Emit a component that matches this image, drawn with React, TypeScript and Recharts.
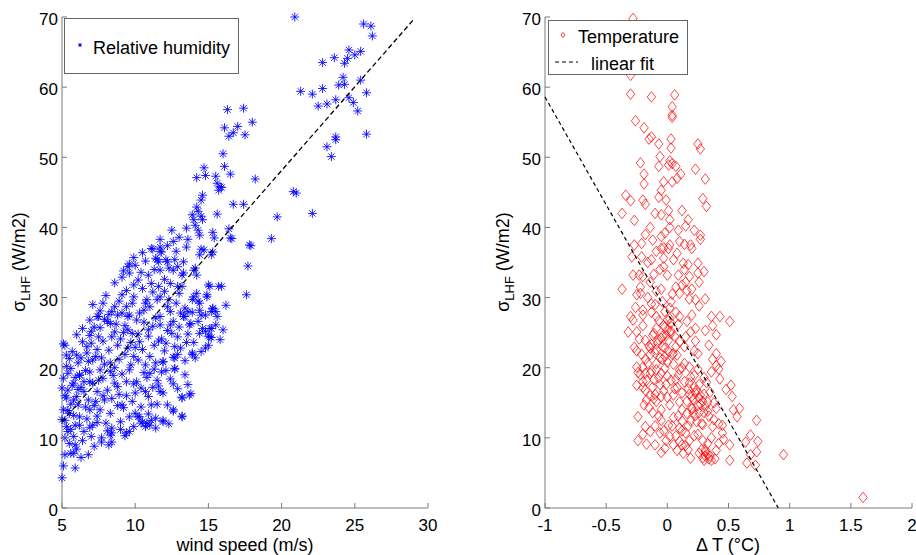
import React from 'react';
import { ScatterChart, Scatter, XAxis, YAxis } from 'recharts';

const FONT = '"Liberation Sans", Arial, Helvetica, sans-serif';
const AXIS_COLOR = '#7a7a7a';

// axis ticks
const windTicks = [5, 10, 15, 20, 25, 30];
const dtTicks = [-1, -0.5, 0, 0.5, 1, 1.5, 2];
const lhfTicks = [0, 10, 20, 30, 40, 50, 60, 70];

// left panel: wind speed (m/s) vs sigma LHF (W/m2)
const humidityPoints: [number, number][] = [
  [20.9, 70], [25.6, 69.0], [26.1, 68.7], [26.2, 67.3], [22.8, 63.5], [23.6, 64.2], [24.3, 63.4], [24.6, 65.3],
  [25.4, 65.1], [24.5, 64.1], [25.0, 64.6], [24.2, 61.4], [25.4, 61.0], [21.3, 59.4], [22.1, 59.0], [22.8, 59.8],
  [23.9, 60.3], [24.3, 60.4], [25.8, 59.2], [22.5, 57.3], [23.1, 57.6], [23.7, 58.2], [24.6, 58.5], [24.9, 57.8],
  [25.2, 56.6], [25.8, 53.3], [23.7, 52.9], [23.7, 52.5], [23.1, 51.5], [23.4, 50.1], [20.8, 45.1], [21.0, 44.9],
  [22.1, 42.0], [19.7, 41.5], [19.3, 38.4], [18.2, 46.9], [18.0, 55.0], [17.4, 57.0], [16.3, 56.8], [16.1, 54.2],
  [17.0, 54.4], [16.7, 53.5], [16.4, 53.0], [17.5, 53.2], [16.0, 50.5], [16.1, 48.7], [16.5, 47.6], [16.7, 43.3],
  [17.4, 43.3], [17.9, 37.4], [17.7, 34.5], [16.4, 39.8], [16.5, 38.5], [15.6, 41.9], [14.7, 48.5], [14.8, 47.4],
  [14.2, 47.1], [15.5, 47.3], [15.6, 46.3], [15.8, 45.8], [15.7, 45.3], [15.9, 45.7], [14.6, 44.6], [14.5, 43.9],
  [14.2, 42.9], [13.9, 41.8], [14.0, 41.1], [14.3, 42.3], [14.5, 41.6], [14.6, 41.1], [14.1, 40.3], [14.4, 38.9],
  [14.3, 39.6], [15.3, 39.3], [15.4, 38.5], [13.5, 39.9], [13.6, 38.3], [14.5, 36.9], [15.3, 36.5], [14.4, 36.1],
  [12.5, 39.6], [12.6, 38.0], [11.7, 38.3], [11.7, 37.2], [11.2, 36.9], [11.8, 36.5], [9.9, 35.7], [9.6, 34.8],
  [9.6, 33.5], [11.4, 35.6], [11.6, 35.1], [12.2, 35.1], [12.7, 35.4], [13.3, 35.1], [11.7, 33.9], [12.6, 33.9],
  [13.2, 33.2], [14.0, 33.9], [14.2, 33.2], [10.9, 33.2], [9.1, 32.9],
  [16.6, 38.4], [17.8, 37.5], [17.6, 30.4], [16.2, 28.9], [11.1, 37.0], [11.7, 36.6], [14.7, 36.8], [15.2, 36.1],
  [9.5, 34.4], [11.5, 35.4], [12.1, 35.4], [12.9, 34.4], [14.1, 34.2], [12.3, 34.2], [10.2, 32.5], [9.9, 31.8],
  [13.3, 33.5], [11.6, 31.6], [12.4, 32.0], [13.2, 31.6], [15.0, 31.8], [15.7, 31.6], [15.9, 31.6], [14.9, 30.4],
  [14.0, 30.1], [14.2, 30.6], [13.9, 29.7], [14.4, 29.2], [15.3, 28.5], [11.2, 30.8], [11.7, 30.1], [12.3, 29.7],
  [10.8, 29.7], [11.0, 28.7], [12.2, 28.7], [12.8, 29.2], [13.4, 28.5], [9.1, 30.4], [9.9, 30.1], [9.4, 28.7],
  [8.6, 28.7], [7.8, 29.2], [8.4, 28.0], [7.5, 27.3], [9.1, 27.8], [9.6, 27.5], [10.3, 27.8], [10.7, 29.2],
  [11.5, 29.7], [12.4, 28.0], [13.1, 27.8], [13.6, 28.0], [14.4, 28.2], [14.8, 27.5], [15.6, 27.3], [15.5, 28.0],
  [11.7, 27.3], [13.4, 27.3],
  [15.1, 31.6], [15.3, 28.4], [14.9, 30.1], [15.2, 25.6], [15.0, 24.5], [13.9, 21.9], [13.8, 16.3], [13.2, 15.8],
  [13.2, 13.1], [12.6, 13.8], [12.6, 21.5], [12.7, 19.8], [11.9, 16.4], [11.9, 20.8], [11.9, 12.5], [11.5, 14.8],
  [11.1, 12.5], [10.8, 12.1], [10.5, 12.3], [10.2, 13.0], [10.0, 13.5], [9.4, 10.7], [9.3, 10.3], [8.4, 10.7],
  [8.4, 9.4], [7.7, 9.4], [7.7, 10.0], [6.8, 7.6], [5.9, 5.7], [5.6, 7.8], [5.1, 6.0], [5.0, 4.3],
  [5.1, 23.4], [5.0, 17.1],
  [5.2, 23.2], [6.0, 24.7], [5.7, 22.3], [6.1, 20.7], [5.4, 19.2], [6.2, 19.0], [5.8, 17.8], [5.4, 16.8],
  [6.5, 16.6], [5.1, 14.0], [5.5, 13.5], [6.2, 13.0], [6.9, 14.0], [7.1, 11.8], [5.3, 11.6], [5.9, 11.8],
  [6.5, 10.9], [5.2, 10.0], [5.8, 10.2], [7.0, 10.2], [8.3, 10.4], [9.6, 10.9], [5.8, 7.8], [5.2, 7.6],
  [10.4, 12.1], [11.0, 11.8], [10.3, 13.0], [11.4, 12.8], [11.9, 12.3], [9.1, 14.7], [9.2, 14.3], [8.3, 13.5],
  [9.6, 13.0], [10.0, 16.4], [10.9, 15.9], [11.1, 14.7], [11.7, 16.6], [12.2, 14.7], [12.6, 14.0], [13.2, 13.0],
  [13.2, 15.7], [13.7, 16.1], [11.0, 19.2], [11.8, 19.4], [12.7, 19.9], [12.7, 21.4], [11.9, 20.9], [11.4, 20.7],
  [10.7, 20.4], [10.1, 18.0], [9.4, 18.0], [9.6, 19.7], [8.8, 17.3], [8.1, 16.8], [7.4, 16.6], [7.9, 15.4],
  [7.3, 15.2], [8.6, 17.8], [11.5, 18.2], [12.7, 23.0], [13.9, 22.1], [15.1, 25.6], [15.1, 24.4], [14.4, 24.9],
  [13.7, 26.1], [13.3, 27.3], [14.5, 27.5], [15.2, 28.0], [12.4, 26.1], [11.7, 26.1], [10.9, 25.4], [10.3, 23.7],
  [9.5, 22.8], [8.8, 23.2], [8.4, 24.4], [7.6, 25.7], [8.1, 26.6], [7.4, 27.3], [8.8, 27.5], [9.5, 27.3],
  [10.1, 26.8], [7.0, 23.5], [6.7, 22.1], [7.1, 21.1], [7.6, 19.7], [6.9, 19.4], [8.3, 20.7], [7.8, 18.5],
  [6.5, 18.0], [7.1, 17.8], [5.8, 15.4], [5.3, 15.7], [6.1, 14.7], [6.8, 15.4], [7.6, 14.0], [9.0, 12.3],
  [8.4, 11.4], [10.7, 11.6], [5.2, 12.5], [5.4, 10.9], [5.9, 9.0], [6.2, 11.8],
  [5.1, 18.5], [5.3, 20.2], [5.5, 21.3], [5.2, 16.0], [5.6, 14.8], [5.8, 13.2], [6.0, 15.9], [6.3, 17.2],
  [6.6, 19.6], [6.0, 21.8], [6.4, 23.7], [6.9, 24.6], [7.2, 25.8], [7.8, 23.8], [8.2, 22.5], [8.6, 25.1],
  [9.0, 24.1], [9.3, 26.0], [9.8, 24.9], [10.5, 22.6], [10.9, 24.5], [11.3, 23.2], [11.8, 24.1], [12.2, 25.3],
  [12.9, 24.4], [13.5, 23.6], [10.2, 21.1], [9.7, 20.4], [9.1, 19.1], [8.5, 18.9], [7.9, 20.5], [7.3, 21.6],
  [6.8, 20.9], [6.2, 18.9], [5.7, 17.5], [5.4, 13.9], [5.0, 12.6], [5.6, 11.2], [6.7, 12.7], [7.4, 13.1],
  [8.0, 12.1], [8.8, 14.6], [9.4, 16.0], [10.4, 17.1], [10.8, 18.6], [11.6, 17.4], [12.4, 18.4], [12.9, 17.0],
  [13.4, 19.0], [14.1, 21.4], [13.1, 22.8], [12.0, 22.4], [11.0, 21.6], [10.0, 22.9], [9.5, 25.4], [8.3, 26.3],
  [7.6, 28.1], [6.9, 26.8], [6.4, 25.6], [7.1, 29.0], [8.0, 30.3], [8.9, 29.5], [9.8, 29.2], [10.6, 28.2],
  [11.4, 27.1], [12.6, 26.6], [13.8, 26.3], [14.6, 25.6], [15.2, 24.3], [14.3, 29.5], [13.0, 30.6], [12.0, 30.9],
  [10.5, 31.3], [9.4, 31.0], [8.6, 32.1],
  [5.3, 21.8], [5.6, 19.9], [5.9, 18.6], [6.3, 21.4], [6.7, 23.0], [7.0, 25.2], [7.5, 24.4], [7.9, 26.9],
  [8.2, 27.6], [8.7, 26.2], [9.2, 25.0], [9.7, 23.6], [10.2, 24.8], [10.6, 26.5], [11.2, 25.9], [11.6, 23.8],
  [12.1, 23.5], [12.5, 24.9], [13.0, 25.8], [13.6, 24.8], [14.0, 23.6], [14.8, 22.8], [14.3, 26.6], [13.9, 27.9],
  [12.9, 31.6], [12.0, 32.6], [11.1, 32.0], [10.4, 33.6], [10.0, 34.6], [9.2, 33.8], [10.7, 35.2], [11.3, 34.0],
  [12.8, 36.6], [13.5, 37.2], [13.0, 38.6], [12.2, 37.4], [10.5, 36.4], [6.1, 16.9], [6.6, 14.4], [7.2, 14.6],
  [7.8, 16.0], [8.4, 15.6], [8.9, 16.2], [9.8, 15.2], [10.4, 14.4], [10.9, 13.4], [6.4, 9.6], [6.9, 11.5],
  [7.4, 12.2], [8.1, 11.0], [5.5, 9.2], [6.0, 8.4], [6.3, 7.2], [7.2, 8.8], [8.2, 9.0], [9.0, 11.2],
  [9.9, 11.6], [11.4, 11.4], [12.3, 12.0], [8.9, 21.2], [9.3, 21.9], [9.9, 21.6], [10.6, 19.3], [11.3, 19.8],
  [12.1, 19.6], [12.6, 17.7], [13.6, 17.6], [8.6, 20.0], [7.4, 22.6], [7.7, 21.4], [6.9, 18.0], [7.5, 18.2],
  [8.3, 19.5], [9.9, 17.7], [10.7, 16.6], [11.2, 17.2], [12.9, 21.9], [13.4, 21.0], [14.5, 22.3], [15.0, 23.2],
  [15.8, 24.0], [14.8, 25.2], [15.5, 26.1], [16.0, 25.4],
];
const windFit: [number, number][] = [[5, 12.3], [29, 69.6]];

// right panel: delta T (deg C) vs sigma LHF (W/m2)
const temperaturePoints: [number, number][] = [
  [-0.28, 69.8], [-0.3, 61.7], [-0.3, 59.0], [-0.13, 58.6], [0.06, 58.9], [0.04, 57.2], [0.04, 55.7], [0.04, 56.0],
  [-0.26, 55.2], [-0.19, 54.2], [-0.13, 52.9], [-0.15, 52.6], [-0.07, 51.9], [0.03, 52.6], [0.03, 51.3], [0.25, 51.9],
  [0.27, 51.2], [-0.22, 49.2], [-0.06, 50.1], [0.02, 49.5], [0.04, 49.1], [0.01, 48.9], [-0.07, 48.7], [0.07, 48.7],
  [0.23, 48.3], [0.31, 46.9], [0.11, 47.6], [0.08, 47.0], [0.04, 46.5], [-0.19, 47.6], [-0.19, 46.2], [-0.03, 46.5],
  [-0.34, 44.6], [-0.3, 43.8], [-0.37, 42.0], [-0.2, 43.9], [-0.18, 43.3], [-0.07, 44.3], [-0.01, 43.9], [-0.05, 45.3],
  [0.29, 44.1], [0.32, 43.0], [0.12, 42.4], [-0.1, 42.0], [-0.05, 41.8], [0.01, 42.4], [0.02, 41.1], [0.17, 41.1],
  [0.15, 40.2], [0.09, 39.6], [0.02, 40.0], [-0.14, 40.0], [-0.27, 41.0], [-0.27, 37.5], [-0.21, 37.7], [-0.12, 38.2],
  [-0.05, 38.7], [-0.05, 37.0], [-0.03, 37.1], [0.01, 37.0], [0.02, 37.5], [0.1, 38.0], [0.19, 37.5], [0.2, 37.0],
  [0.27, 38.9], [0.27, 38.3], [-0.29, 35.8], [-0.21, 35.8], [-0.13, 35.4], [0.05, 35.4], [-0.03, 35.6], [0.13, 34.9],
  [0.17, 34.7], [0.25, 34.9], [0.3, 33.7], [-0.28, 33.2], [-0.23, 33.2], [-0.03, 34.4], [0.0, 33.2], [0.18, 33.0],
  [-0.11, 33.3],
  [-0.37, 31.2], [-0.25, 30.4], [-0.22, 30.6], [-0.28, 26.8], [-0.32, 25.1], [-0.25, 25.1], [-0.2, 27.5], [-0.2, 28.2],
  [-0.13, 27.9], [-0.13, 29.1], [-0.09, 27.3], [-0.25, 22.4], [-0.25, 20.1], [-0.25, 17.5], [-0.24, 13.0], [-0.24, 9.6],
  [-0.18, 11.6], [-0.17, 9.1], [-0.14, 10.9], [-0.1, 9.0], [-0.05, 7.9], [-0.02, 8.5], [-0.06, 10.7], [-0.07, 13.1],
  [0.01, 11.8], [0.02, 10.2], [0.1, 11.4], [0.12, 9.0], [0.17, 8.3], [0.19, 7.1], [0.25, 10.5], [0.31, 8.3],
  [0.31, 7.4], [0.36, 6.8], [0.35, 7.4], [0.39, 7.0], [0.42, 9.2], [0.45, 10.7], [0.51, 9.0], [0.51, 6.8],
  [0.65, 6.4], [0.68, 7.6], [0.72, 6.1], [0.68, 10.4], [0.64, 9.4], [0.74, 9.5], [0.73, 12.5], [0.73, 8.0],
  [0.95, 7.6], [1.6, 1.5], [0.52, 17.5], [0.53, 15.9], [0.54, 14.0], [0.59, 14.2], [0.57, 13.0], [0.51, 26.6],
  [0.43, 27.3], [0.36, 27.3], [0.37, 26.0], [0.4, 24.7], [0.4, 22.0], [0.37, 21.2], [0.4, 20.3], [0.42, 19.8],
  [0.43, 18.4], [0.36, 19.4], [0.25, 22.0], [0.22, 22.4], [0.23, 23.8], [0.23, 25.6], [0.26, 28.8], [0.23, 29.7],
  [0.26, 32.2], [0.15, 32.2], [0.16, 31.0], [0.1, 30.6], [0.07, 31.5], [0.03, 29.4], [0.02, 28.5], [0.0, 26.8],
  [-0.02, 25.8], [0.0, 25.4], [0.03, 24.9], [-0.04, 24.5], [-0.07, 24.0], [-0.04, 23.0], [-0.09, 22.6], [-0.13, 23.3],
  [-0.14, 21.9], [-0.18, 21.2], [-0.21, 21.9], [-0.2, 20.1], [-0.18, 19.2], [-0.14, 19.2], [-0.11, 18.3], [-0.09, 19.7],
  [-0.05, 19.2], [-0.02, 19.9], [0.0, 18.8], [-0.01, 17.6], [-0.06, 17.6], [-0.12, 17.2], [-0.1, 16.2], [-0.14, 16.0],
  [-0.2, 17.2], [-0.17, 15.4], [-0.09, 15.2], [-0.05, 15.9], [0.02, 14.7], [0.05, 16.1], [0.08, 17.2], [0.07, 18.3],
  [0.1, 19.7], [0.14, 20.6], [0.18, 20.1], [0.19, 18.7], [0.18, 17.8], [0.22, 17.3], [0.23, 16.4], [0.26, 15.7],
  [0.29, 15.2], [0.31, 14.5], [0.3, 13.6], [0.34, 13.1], [0.38, 12.6], [0.37, 11.6], [0.26, 13.6], [0.2, 14.3],
  [0.16, 15.2], [0.12, 16.4], [0.12, 14.0], [0.12, 12.4], [0.05, 12.9], [0.04, 11.7], [0.07, 10.3], [0.15, 10.7],
  [0.18, 9.6], [0.29, 11.9], [0.29, 9.6], [-0.09, 20.6], [-0.02, 21.6], [0.01, 22.3], [0.05, 22.0], [0.07, 23.0],
  [0.1, 23.7], [0.14, 23.0], [0.15, 24.4], [0.19, 25.1], [0.16, 26.6], [0.1, 27.3], [0.07, 27.9], [-0.04, 29.4],
  [-0.09, 30.9], [-0.14, 32.2], [-0.2, 33.0],
  [-0.08, 23.5], [-0.05, 24.2], [-0.02, 22.8], [0.01, 23.9], [0.03, 25.2], [-0.1, 22.1], [-0.12, 24.6], [-0.06, 21.4],
  [0.0, 20.8], [0.04, 21.9], [-0.15, 23.1], [-0.03, 26.0], [0.06, 24.5], [-0.09, 25.6], [0.02, 27.0], [-0.16, 20.6],
  [-0.13, 19.5], [-0.07, 18.6], [-0.2, 18.0], [-0.22, 19.0], [-0.18, 16.8], [-0.11, 15.6], [-0.15, 14.3], [-0.05, 14.0],
  [0.0, 15.8], [0.06, 17.0], [0.09, 19.0], [0.12, 20.0], [0.14, 18.0],
  [0.18, 16.2], [0.21, 15.5], [0.24, 16.8], [0.27, 14.8], [0.2, 14.1], [0.23, 13.2], [0.26, 17.6], [0.3, 16.2],
  [0.16, 13.5], [0.19, 12.4], [0.28, 12.0], [0.33, 13.8], [0.32, 17.9], [0.22, 18.9], [0.25, 19.8], [0.35, 16.5],
  [0.38, 15.0], [0.4, 14.2], [0.42, 12.0], [0.36, 10.0], [0.45, 11.8],
  [0.29, 7.2], [0.31, 8.0], [0.33, 7.6], [0.3, 6.8], [0.34, 7.0], [0.28, 8.3],
  [-0.2, 10.5], [-0.1, 11.7], [-0.05, 12.5], [0.05, 9.0], [0.08, 8.2], [0.1, 9.5], [0.13, 7.8], [0.15, 8.9],
  [0.12, 11.0], [-0.01, 9.6],
  [-0.22, 31.5], [-0.16, 30.0], [-0.1, 29.0], [-0.05, 31.2], [0.04, 30.5], [0.12, 31.8], [0.18, 29.8], [0.2, 27.5],
  [0.09, 26.2], [-0.02, 28.0], [-0.26, 28.6], [-0.3, 27.3], [0.25, 33.5], [0.14, 34.0],
  [-0.04, 21.2], [-0.01, 24.6], [0.03, 26.4], [-0.11, 24.9], [-0.14, 22.8], [-0.07, 26.7], [0.05, 20.5], [0.08, 21.8],
  [-0.18, 23.9], [-0.23, 24.1], [-0.27, 22.9], [-0.2, 26.0], [-0.24, 19.3], [-0.17, 18.2], [-0.03, 16.7], [0.03, 18.2],
  [0.1, 15.1], [0.17, 17.0], [0.2, 15.9], [0.25, 14.6], [0.21, 13.6], [0.27, 16.1], [0.33, 15.1], [0.3, 18.6],
  [0.24, 12.3], [0.17, 11.7], [0.22, 10.3], [0.09, 13.1], [-0.12, 13.6], [-0.19, 14.7], [-0.03, 11.0], [0.33, 9.2],
  [0.26, 7.8], [0.4, 8.2], [0.46, 9.8], [0.48, 16.9], [0.44, 20.9], [0.34, 23.2], [0.31, 25.3], [0.31, 29.8],
  [0.2, 31.2], [0.09, 33.2], [-0.06, 34.0], [-0.16, 35.0], [-0.09, 36.6], [0.08, 36.3], [0.14, 37.6], [0.22, 39.6],
  [-0.02, 39.2], [-0.18, 39.0],
];
const tempFit: [number, number][] = [[-1, 58.6], [0.907, 0]];

const toXY = (pts: [number, number][]) => pts.map(([x, y]) => ({ x, y }));

const Asterisk = (props: any) => {
  const { cx, cy, r = 4.5 } = props;
  const d = r * 0.71;
  return (
    <g stroke="#0000ff" strokeWidth={1} strokeOpacity={0.85}>
      <line x1={cx - r} y1={cy} x2={cx + r} y2={cy} />
      <line x1={cx} y1={cy - r} x2={cx} y2={cy + r} />
      <line x1={cx - d} y1={cy - d} x2={cx + d} y2={cy + d} />
      <line x1={cx - d} y1={cy + d} x2={cx + d} y2={cy - d} />
    </g>
  );
};

const Diamond = (props: any) => {
  const { cx, cy } = props;
  return (
    <polygon
      points={`${cx},${cy - 5.3} ${cx + 4.2},${cy} ${cx},${cy + 5.3} ${cx - 4.2},${cy}`}
      fill="none"
      stroke="#ff0000"
      strokeWidth={0.9}
      strokeOpacity={0.8}
    />
  );
};

const NoDot = () => <g />;

const BottomTick = (props: any) => {
  const { x, y, payload } = props;
  return (
    <g>
      <line x1={x} y1={y} x2={x} y2={y - 5} stroke={AXIS_COLOR} />
      <text x={x} y={y + 23} textAnchor="middle" fontSize={17} fontFamily={FONT} fill="#000">
        {payload.value}
      </text>
    </g>
  );
};

const LeftTick = (props: any) => {
  const { x, y, payload } = props;
  return (
    <g>
      <line x1={x} y1={y} x2={x + 5} y2={y} stroke={AXIS_COLOR} />
      <text x={x - 4} y={y + 8} textAnchor="end" fontSize={17} fontFamily={FONT} fill="#000">
        {payload.value}
      </text>
    </g>
  );
};

const SigmaLabel = ({ x, y }: { x: number; y: number }) => (
  <text transform={`rotate(-90 ${x} ${y})`} x={x} y={y} textAnchor="middle" fontSize={18} fontFamily={FONT} fill="#000">
    σ<tspan fontSize={13} dy={5}>LHF</tspan>
    <tspan dy={-5}> (W/m2)</tspan>
  </text>
);

const XLabel = ({ x, text }: { x: number; text: string }) => (
  <text x={x} y={551} textAnchor="middle" fontSize={18} fontFamily={FONT} fill="#000">
    {text}
  </text>
);

export default function App() {
  return (
    <div style={{ position: 'absolute', left: 0, top: 0, width: 916, height: 555, background: '#fff', fontFamily: FONT }}>
      <div style={{ position: 'absolute', left: 0, top: 0 }}>
        <ScatterChart width={458} height={555} margin={{ top: 17, right: 30, bottom: 0, left: 0 }}>
          <XAxis
            type="number"
            dataKey="x"
            domain={[5, 30]}
            ticks={windTicks}
            height={47}
            stroke={AXIS_COLOR}
            tickLine={false}
            tickSize={0}
            tickMargin={0}
            tick={<BottomTick />}
            label={{ content: () => <XLabel x={245} text="wind speed (m/s)" /> }}
          />
          <YAxis
            type="number"
            dataKey="y"
            domain={[0, 70]}
            ticks={lhfTicks}
            width={62}
            stroke={AXIS_COLOR}
            tickLine={false}
            tickSize={0}
            tickMargin={0}
            tick={<LeftTick />}
            label={{ content: () => <SigmaLabel x={25} y={262} /> }}
          />
          <Scatter data={toXY(humidityPoints)} shape={<Asterisk />} isAnimationActive={false} />
          <Scatter
            data={toXY(windFit)}
            line={{ stroke: '#000', strokeWidth: 1.3, strokeDasharray: '5 3' }}
            shape={<NoDot />}
            isAnimationActive={false}
          />
        </ScatterChart>
      </div>
      <div style={{ position: 'absolute', left: 458, top: 0 }}>
        <ScatterChart width={458} height={555} margin={{ top: 17, right: 4, bottom: 0, left: 0 }}>
          <XAxis
            type="number"
            dataKey="x"
            domain={[-1, 2]}
            ticks={dtTicks}
            height={47}
            stroke={AXIS_COLOR}
            tickLine={false}
            tickSize={0}
            tickMargin={0}
            tick={<BottomTick />}
            label={{ content: () => <XLabel x={270} text="Δ T (°C)" /> }}
          />
          <YAxis
            type="number"
            dataKey="y"
            domain={[0, 70]}
            ticks={lhfTicks}
            width={87}
            stroke={AXIS_COLOR}
            tickLine={false}
            tickSize={0}
            tickMargin={0}
            tick={<LeftTick />}
            label={{ content: () => <SigmaLabel x={51} y={262} /> }}
          />
          <Scatter data={toXY(temperaturePoints)} shape={<Diamond />} isAnimationActive={false} />
          <Scatter
            data={toXY(tempFit)}
            line={{ stroke: '#000', strokeWidth: 1.2, strokeDasharray: '4 3' }}
            shape={<NoDot />}
            isAnimationActive={false}
          />
        </ScatterChart>
      </div>
      <svg width={916} height={555} style={{ position: 'absolute', left: 0, top: 0, pointerEvents: 'none' }}>
        <rect x={64.5} y={18.5} width={174} height={55} fill="#fff" stroke="#666" />
        <Asterisk cx={80} cy={45} r={2} />
        <text x={93} y={54} fontSize={18} fontFamily={FONT} fill="#000">Relative humidity</text>
        <rect x={548.5} y={20.5} width={139} height={54} fill="#fff" stroke="#666" />
        <polygon points="563,32.5 565,35 563,37.5 561,35" fill="none" stroke="#ff0000" strokeOpacity={0.8} />
        <text x={578} y={43} fontSize={18} fontFamily={FONT} fill="#000">Temperature</text>
        <line x1={555} y1={62} x2={578} y2={62} stroke="#000" strokeDasharray="4 3" />
        <text x={591} y={70} fontSize={18} fontFamily={FONT} fill="#000">linear fit</text>
      </svg>
    </div>
  );
}
